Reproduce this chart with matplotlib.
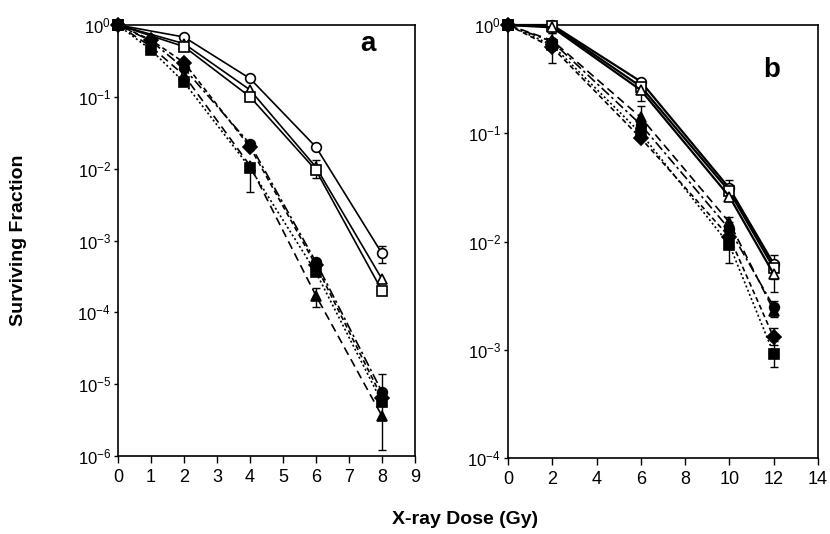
import numpy as np
import matplotlib
matplotlib.use("Agg")
import matplotlib.pyplot as plt
from matplotlib.ticker import LogLocator, NullLocator, LogFormatterSciNotation, FixedLocator

plt.rcParams['font.family'] = ['Liberation Sans', 'DejaVu Sans']
plt.rcParams['mathtext.default'] = 'regular'

# ---------------- data: panel a ----------------
dose_a = [0, 1, 2, 4, 6, 8]
dose_a_open = [0, 2, 4, 6, 8]
a_open_circle = [1, 0.68, 0.18, 0.020, 6.6e-4]
a_open_triangle = [1, 0.55, 0.125, 0.0105, 2.9e-4]
a_open_square = [1, 0.50, 0.10, 0.0095, 2.0e-4]
a_fill_circle = [1, 0.60, 0.25, 0.022, 5.0e-4, 7.8e-6]
a_fill_diamond = [1, 0.62, 0.30, 0.020, 4.5e-4, 6.5e-6]
a_fill_triangle = [1, 0.50, 0.20, 0.011, 1.7e-4, 3.6e-6]
a_fill_square = [1, 0.45, 0.16, 0.0103, 3.6e-4, 5.6e-6]
# error bounds (lower, upper); nan = no bar
a_open_circle_lo = [np.nan, np.nan, np.nan, np.nan, 4.8e-4]
a_open_circle_hi = [np.nan, np.nan, np.nan, np.nan, 8.5e-4]
a_open_square_lo = [np.nan, np.nan, np.nan, 0.0075, np.nan]
a_open_square_hi = [np.nan, np.nan, np.nan, 0.013, np.nan]
a_fill_square_lo = [np.nan, np.nan, np.nan, 0.0048, np.nan, np.nan]
a_fill_square_hi = [np.nan, np.nan, np.nan, 0.012, np.nan, np.nan]
a_fill_triangle_lo = [np.nan, np.nan, np.nan, np.nan, 1.2e-4, 1.2e-6]
a_fill_triangle_hi = [np.nan, np.nan, np.nan, np.nan, 2.2e-4, 5.0e-6]
a_fill_circle_lo = [np.nan, np.nan, np.nan, np.nan, np.nan, 5.5e-6]
a_fill_circle_hi = [np.nan, np.nan, np.nan, np.nan, np.nan, 1.4e-5]

# ---------------- data: panel b ----------------
dose_b = [0, 2, 6, 10, 12]
b_open_circle = [1, 1.0, 0.30, 0.031, 6.2e-3]
b_open_square = [1, 0.98, 0.27, 0.029, 5.7e-3]
b_open_triangle = [1, 0.95, 0.25, 0.026, 5.0e-3]
b_fill_circle = [1, 0.70, 0.12, 0.013, 2.5e-3]
b_fill_triangle = [1, 0.72, 0.14, 0.015, 2.3e-3]
b_fill_diamond = [1, 0.62, 0.09, 0.011, 1.3e-3]
b_fill_square = [1, 0.65, 0.10, 0.0093, 9.2e-4]
b_open_square_lo = [np.nan, 0.85, np.nan, 0.025, 4.5e-3]
b_open_square_hi = [np.nan, 1.25, np.nan, 0.037, 7.5e-3]
b_open_triangle_lo = [np.nan, np.nan, 0.20, np.nan, 3.4e-3]
b_open_triangle_hi = [np.nan, np.nan, 0.31, np.nan, 6.0e-3]
b_fill_square_lo = [np.nan, 0.45, np.nan, 0.0063, 6.9e-4]
b_fill_square_hi = [np.nan, 0.85, np.nan, 0.012, 1.2e-3]
b_fill_triangle_lo = [np.nan, np.nan, 0.10, np.nan, 2.0e-3]
b_fill_triangle_hi = [np.nan, np.nan, 0.18, 0.017, 2.8e-3]
b_fill_diamond_lo = [np.nan, np.nan, np.nan, np.nan, 1.1e-3]
b_fill_diamond_hi = [np.nan, np.nan, np.nan, np.nan, 1.6e-3]

xticks_a = [0, 1, 2, 3, 4, 5, 6, 7, 8, 9]
xticks_b = [0, 2, 4, 6, 8, 10, 12, 14]

fig = plt.figure(figsize=(8.30, 5.34), dpi=100)
ax_a = fig.add_axes([118/830, 1-456/534, (415-118)/830, (456-25)/534])
ax_b = fig.add_axes([508/830, 1-458/534, (818-508)/830, (458-25)/534])

MS = 7


def series(ax, x, y, marker, ls, filled, lw=1.2):
    fc = 'black' if filled else 'white'
    ax.plot(x, y, color='black', ls=ls, lw=lw, marker=marker, ms=MS,
            mfc=fc, mec='black', mew=1.2, clip_on=False, zorder=3)


def ebar(ax, x, y, lo, hi):
    x = np.asarray(x, float)
    y = np.asarray(y, float)
    lo = np.asarray(lo, float)
    hi = np.asarray(hi, float)
    m = ~(np.isnan(lo) & np.isnan(hi))
    lo2 = np.where(np.isnan(lo), y, lo)
    hi2 = np.where(np.isnan(hi), y, hi)
    ax.errorbar(x[m], y[m], yerr=[y[m] - lo2[m], hi2[m] - y[m]], fmt='none',
                ecolor='black', elinewidth=1.0, capsize=3, capthick=1.0, zorder=2)


dashed = (0, (5, 3))
dotted = (0, (1.2, 1.5))
dashdot = (0, (6, 2, 1.5, 2))
dashfine = (0, (3, 2))

# panel a
series(ax_a, dose_a_open, a_open_circle, 'o', '-', False)
series(ax_a, dose_a_open, a_open_triangle, '^', '-', False)
series(ax_a, dose_a_open, a_open_square, 's', '-', False)
series(ax_a, dose_a, a_fill_circle, 'o', dashdot, True)
series(ax_a, dose_a, a_fill_diamond, 'D', dashfine, True)
series(ax_a, dose_a, a_fill_triangle, '^', dashed, True)
series(ax_a, dose_a, a_fill_square, 's', dotted, True)
ebar(ax_a, dose_a_open, a_open_circle, a_open_circle_lo, a_open_circle_hi)
ebar(ax_a, dose_a_open, a_open_square, a_open_square_lo, a_open_square_hi)
ebar(ax_a, dose_a, a_fill_square, a_fill_square_lo, a_fill_square_hi)
ebar(ax_a, dose_a, a_fill_triangle, a_fill_triangle_lo, a_fill_triangle_hi)
ebar(ax_a, dose_a, a_fill_circle, a_fill_circle_lo, a_fill_circle_hi)

# panel b
series(ax_b, dose_b, b_open_circle, 'o', '-', False, lw=1.6)
series(ax_b, dose_b, b_open_square, 's', '-', False, lw=1.6)
series(ax_b, dose_b, b_open_triangle, '^', '-', False, lw=1.6)
series(ax_b, dose_b, b_fill_circle, 'o', dashdot, True)
series(ax_b, dose_b, b_fill_triangle, '^', dashed, True)
series(ax_b, dose_b, b_fill_diamond, 'D', dashfine, True)
series(ax_b, dose_b, b_fill_square, 's', dotted, True)
ebar(ax_b, dose_b, b_open_square, b_open_square_lo, b_open_square_hi)
ebar(ax_b, dose_b, b_open_triangle, b_open_triangle_lo, b_open_triangle_hi)
ebar(ax_b, dose_b, b_fill_square, b_fill_square_lo, b_fill_square_hi)
ebar(ax_b, dose_b, b_fill_triangle, b_fill_triangle_lo, b_fill_triangle_hi)
ebar(ax_b, dose_b, b_fill_diamond, b_fill_diamond_lo, b_fill_diamond_hi)

for ax, xt, ylim in ((ax_a, xticks_a, (1e-6, 1)), (ax_b, xticks_b, (1e-4, 1))):
    ax.set_yscale('log')
    ax.set_ylim(*ylim)
    ax.set_xlim(xt[0], xt[-1])
    ax.xaxis.set_major_locator(FixedLocator(xt))
    ax.yaxis.set_major_locator(LogLocator(base=10, numticks=20))
    ax.yaxis.set_minor_locator(NullLocator())
    ax.yaxis.set_major_formatter(LogFormatterSciNotation())
    ax.tick_params(axis='x', direction='out', length=5, width=1, labelsize=13, pad=4)
    ax.tick_params(axis='y', direction='out', length=3, width=1, labelsize=12, pad=2)
    for s in ax.spines.values():
        s.set_linewidth(1.2)
        s.set_color('black')

ax_a.text(0.84, 0.955, 'a', transform=ax_a.transAxes, fontsize=20, fontweight='bold',
          ha='center', va='center')
ax_b.text(0.85, 0.895, 'b', transform=ax_b.transAxes, fontsize=20, fontweight='bold',
          ha='center', va='center')

fig.text(0.022, 1 - 240/534, 'Surviving Fraction', rotation=90, fontsize=14,
         fontweight='bold', ha='center', va='center')
fig.text(465/830, 1 - 520/534, 'X-ray Dose (Gy)', fontsize=14, fontweight='bold',
         ha='center', va='center')

fig.savefig('out.png', dpi=100)
